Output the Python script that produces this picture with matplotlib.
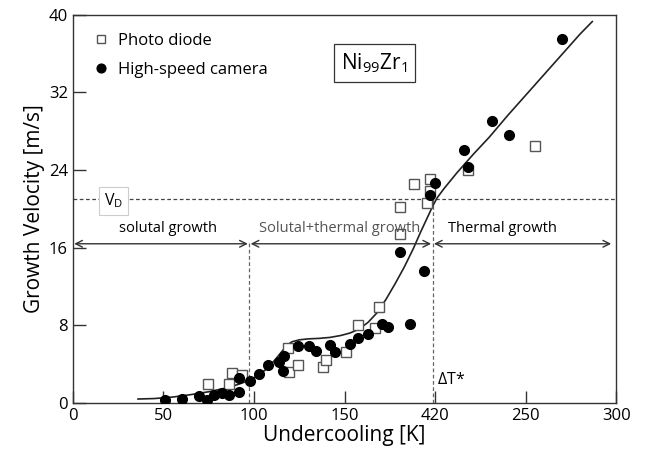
import matplotlib.pyplot as plt

plt.rcParams['font.family'] = ['Open Sans', 'DejaVu Sans']
plt.rcParams['mathtext.fontset'] = 'custom'
plt.rcParams['mathtext.rm'] = 'Open Sans'
plt.rcParams['mathtext.it'] = 'Open Sans'

# photo diode measurements (undercooling K, velocity m/s)
pd_dT = [74.5, 86.4, 88.0, 93.5, 118.6, 119.1, 124.1, 138.2, 140.0, 151.0, 157.7,
         166.7, 169.0, 180.9, 180.9, 188.4, 195.6, 197.1, 197.1, 218.2, 255.1]
pd_v = [1.9, 1.9, 3.1, 2.9, 5.7, 3.2, 3.9, 3.7, 4.4, 5.2, 8.0,
        7.7, 9.9, 17.4, 20.2, 22.6, 20.6, 23.1, 21.8, 24.0, 26.5]

# high-speed camera measurements
hs_dT = [51.1, 60.3, 69.8, 73.9, 78.1, 82.3, 86.4, 91.9, 91.9, 97.8, 102.6,
         107.5, 114.0, 116.2, 116.5, 124.1, 130.2, 134.2, 141.9, 144.7, 152.9,
         157.5, 163.1, 170.9, 174.1, 180.9, 186.4, 193.8, 197.1, 199.9, 216.2,
         218.2, 231.4, 240.6, 270.2]
hs_v = [0.35, 0.4, 0.7, 0.35, 0.8, 1.0, 0.8, 1.1, 2.6, 2.3, 3.0,
        3.9, 4.2, 3.3, 4.8, 5.9, 5.9, 5.3, 6.0, 5.2, 6.1,
        6.7, 7.1, 8.1, 7.8, 15.6, 8.1, 13.6, 21.4, 22.7, 26.1,
        24.3, 29.1, 27.6, 37.5]

# model curve
fit_dT = [36, 45, 55, 65, 75, 85, 92, 97, 102, 107, 111, 115, 118, 121, 125, 130,
          136, 142, 148, 153, 158, 163, 168, 173, 178, 183, 188, 192, 195.5, 198.5,
          201, 205, 212, 221, 230, 240, 250, 260, 270, 280, 286.8]
fit_v = [0.4, 0.45, 0.6, 0.85, 1.15, 1.55, 1.95, 2.3, 2.8, 3.5, 4.3, 5.2, 5.9, 6.3,
         6.5, 6.6, 6.65, 6.75, 6.95, 7.2, 7.6, 8.3, 9.3, 10.7, 12.3, 14.0, 15.9, 17.6,
         19.0, 20.2, 21.1, 22.1, 23.7, 25.6, 27.4, 29.6, 31.7, 33.8, 35.9, 38.0, 39.3]

xticks = [0, 50, 100, 150, 200, 250, 300]
xtick_labels = ['0', '50', '100', '150', '420', '250', '300']
yticks = [0, 8, 16, 24, 32, 40]

v_d = 21.0
dT_solutal = 97.4
dT_star = 198.6
arrow_y = 16.4
y_top = 39.8

fig = plt.figure(figsize=(6.5, 4.61), dpi=100)
ax = fig.add_axes([0.112, 0.126, 0.836, 0.842])

ax.plot(fit_dT, fit_v, color='#222222', lw=1.2, zorder=2)
ax.plot(pd_dT, pd_v, ls='none', marker='s', ms=6.5, mfc='white', mec='#555555',
        mew=1.0, label='Photo diode', zorder=3)
ax.plot(hs_dT, hs_v, ls='none', marker='o', ms=7, mfc='black', mec='black',
        label='High-speed camera', zorder=4)

ax.axhline(v_d, color='#444444', lw=0.9, ls=(0, (3, 2)), zorder=1)
ax.axvline(dT_solutal, ymax=arrow_y / y_top, color='#666666', lw=0.9, ls=(0, (3, 2)), zorder=1)
ax.axvline(dT_star, ymax=v_d / y_top, color='#666666', lw=0.9, ls=(0, (3, 2)), zorder=1)

for x0, x1 in [(0, dT_solutal), (dT_solutal, dT_star), (dT_star, 298)]:
    ax.annotate('', xy=(x0, arrow_y), xytext=(x1, arrow_y),
                arrowprops=dict(arrowstyle='<->', color='#333333', lw=1.0,
                                shrinkA=1, shrinkB=1, mutation_scale=12))

ax.text(52.6, 17.2, 'solutal growth', ha='center', va='bottom', fontsize=10.5)
ax.text(147.5, 17.2, 'Solutal+thermal growth', ha='center', va='bottom', fontsize=10.5,
        color='#555555')
ax.text(237.4, 17.2, 'Thermal growth', ha='center', va='bottom', fontsize=10.5)
ax.text(200.8, 1.5, r'$\Delta$T*', ha='left', va='bottom', fontsize=11.5)
ax.text(22.5, v_d - 0.2, r'V$_\mathrm{D}$', ha='center', va='center', fontsize=11.5,
        bbox=dict(boxstyle='square,pad=0.3', fc='white', ec='#cccccc', lw=0.8))
ax.text(166.5, 35.0, r'Ni$_{99}$Zr$_1$', ha='center', va='center', fontsize=15,
        bbox=dict(boxstyle='square,pad=0.35', fc='white', ec='#333333', lw=0.9))

ax.set_xlim(0, 300)
ax.set_ylim(0, y_top)
ax.set_xticks(xticks)
ax.set_xticklabels(xtick_labels)
ax.set_yticks(yticks)
ax.tick_params(direction='in', length=9, width=1, labelsize=12, color='#333333')
ax.set_xlabel('Undercooling [K]', fontsize=15, labelpad=1)
ax.set_ylabel('Growth Velocity [m/s]', fontsize=15, labelpad=3)
for s in ax.spines.values():
    s.set_color('#333333')
    s.set_linewidth(1.0)

ax.legend(loc='upper left', frameon=False, fontsize=12, handletextpad=0.4,
          borderaxespad=0.7, labelspacing=0.75, handlelength=1.2, markerscale=0.9)

fig.savefig('out.png', dpi=100)
